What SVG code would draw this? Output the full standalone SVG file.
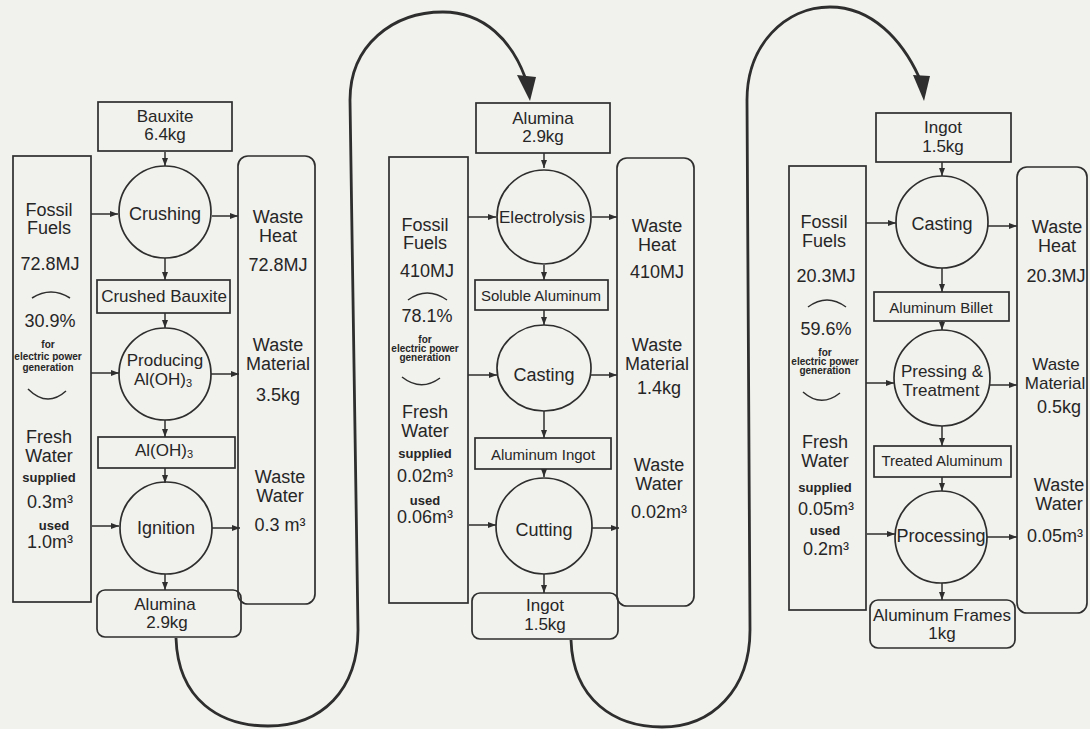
<svg xmlns="http://www.w3.org/2000/svg" width="1090" height="729" viewBox="0 0 1090 729">
<defs>
<style>
.bg{fill:#f1f1ed}
.box{fill:none;stroke:#2e2e2e;stroke-width:1.7}
.circ{fill:none;stroke:#2e2e2e;stroke-width:1.7}
.ln{fill:none;stroke:#2e2e2e;stroke-width:1.5}
.big{fill:none;stroke:#2e2e2e;stroke-width:2.8}
.arc{fill:none;stroke:#2e2e2e;stroke-width:1.5}
text{font-family:"Liberation Sans",Arial,sans-serif;fill:#262626;text-anchor:middle}
.t{font-size:18px}
.m{font-size:17px}
.s{font-size:15px}
.xs{font-size:10px;font-weight:bold}
.u{font-size:13px;font-weight:bold}
.sub{font-size:11px}
</style>
<marker id="ah" markerUnits="userSpaceOnUse" markerWidth="8" markerHeight="6" refX="8" refY="3" orient="auto">
<path d="M0,0 L8,3 L0,6 z" fill="#2e2e2e"/>
</marker>
</defs>
<rect class="bg" x="0" y="0" width="1090" height="729"/>

<g id="connectors">
<g marker-end="url(#ah)">
<line class="ln" x1="165" y1="152" x2="165" y2="166"/>
<line class="ln" x1="165" y1="258" x2="165" y2="280"/>
<line class="ln" x1="165" y1="313" x2="165" y2="328"/>
<line class="ln" x1="165" y1="420" x2="165" y2="437"/>
<line class="ln" x1="165" y1="468" x2="165" y2="483"/>
<line class="ln" x1="165" y1="574" x2="165" y2="590"/>
<line class="ln" x1="91" y1="214" x2="118" y2="214"/>
<line class="ln" x1="212" y1="216" x2="238" y2="216"/>
<line class="ln" x1="91" y1="373" x2="119" y2="373"/>
<line class="ln" x1="211" y1="374" x2="239" y2="374"/>
<line class="ln" x1="92" y1="526" x2="119" y2="526"/>
<line class="ln" x1="212" y1="528" x2="240" y2="528"/>

<line class="ln" x1="544" y1="153" x2="544" y2="168"/>
<line class="ln" x1="544" y1="265" x2="544" y2="280"/>
<line class="ln" x1="544" y1="310" x2="544" y2="325"/>
<line class="ln" x1="544" y1="411" x2="544" y2="438"/>
<line class="ln" x1="544" y1="469" x2="544" y2="477"/>
<line class="ln" x1="544" y1="574" x2="544" y2="593"/>
<line class="ln" x1="468" y1="217" x2="496" y2="217"/>
<line class="ln" x1="592" y1="217" x2="617" y2="217"/>
<line class="ln" x1="468" y1="375" x2="497" y2="375"/>
<line class="ln" x1="591" y1="375" x2="617" y2="375"/>
<line class="ln" x1="469" y1="525" x2="496" y2="525"/>
<line class="ln" x1="592" y1="528" x2="619" y2="528"/>

<line class="ln" x1="942" y1="162" x2="942" y2="176"/>
<line class="ln" x1="942" y1="268" x2="942" y2="292"/>
<line class="ln" x1="942" y1="321" x2="942" y2="330"/>
<line class="ln" x1="942" y1="426" x2="942" y2="446"/>
<line class="ln" x1="942" y1="477" x2="942" y2="491"/>
<line class="ln" x1="942" y1="583" x2="942" y2="600"/>
<line class="ln" x1="866" y1="223" x2="896" y2="223"/>
<line class="ln" x1="988" y1="226" x2="1017" y2="226"/>
<line class="ln" x1="866" y1="383" x2="894" y2="383"/>
<line class="ln" x1="990" y1="385" x2="1017" y2="385"/>
<line class="ln" x1="867" y1="534" x2="895" y2="534"/>
<line class="ln" x1="987" y1="537" x2="1017" y2="537"/>
</g>
<path class="big" d="M176,638 C178,700 220,726 268,726 C322,726 358,690 358,630 L350,100 C350,45 393,12 443,12 C485,12 512,42 525,77"/>
<polygon points="517,75 536,77 530,101" fill="#2e2e2e"/>
<path class="big" d="M571,640 C573,700 615,727 662,727 C712,727 750,690 750,630 L747,100 C747,45 785,7 830,7 C872,7 902,40 919,77"/>
<polygon points="913,75 930,76 924,101" fill="#2e2e2e"/>
</g>

<!-- Column 1 -->
<g id="bauxite"><rect class="box" x="98" y="102" width="134" height="49"/><text class="m" x="165" y="122">Bauxite</text><text class="m" x="165" y="140">6.4kg</text></g>
<g id="inputs1">
<rect class="box" x="13" y="156" width="78" height="446"/>
<text class="t" x="49" y="216">Fossil</text><text class="t" x="49" y="234">Fuels</text>
<text class="t" x="50" y="270">72.8MJ</text>
<path class="arc" d="M32,298 Q51,286 70,298"/>
<text class="t" x="50" y="327">30.9%</text>
<text class="xs" x="48" y="348">for</text><text class="xs" x="48" y="360">electric power</text><text class="xs" x="48" y="371">generation</text>
<path class="arc" d="M28,389 Q47,408 66,391"/>
<text class="t" x="49" y="443">Fresh</text><text class="t" x="49" y="462">Water</text>
<text class="u" x="49" y="482">supplied</text>
<text class="t" x="50" y="508">0.3m³</text>
<text class="u" x="54" y="530">used</text>
<text class="t" x="50" y="548">1.0m³</text>
</g>
<g id="outputs1">
<rect class="box" x="238" y="156" width="77" height="448" rx="10"/>
<text class="t" x="278" y="223">Waste</text><text class="t" x="278" y="242">Heat</text>
<text class="t" x="278" y="271">72.8MJ</text>
<text class="t" x="278" y="351">Waste</text><text class="t" x="278" y="370">Material</text>
<text class="t" x="278" y="401">3.5kg</text>
<text class="t" x="280" y="483">Waste</text><text class="t" x="280" y="502">Water</text>
<text class="t" x="280" y="531">0.3 m³</text>
</g>
<g id="crushing"><circle class="circ" cx="165" cy="212" r="46"/><text class="t" x="165" y="220">Crushing</text></g>
<g id="crushed-bauxite"><rect class="box" x="97" y="280" width="133" height="33"/><text class="m" x="164" y="302">Crushed Bauxite</text></g>
<g id="producing"><circle class="circ" cx="165" cy="374" r="46"/><text class="m" x="165" y="366">Producing</text><text class="m" x="163" y="385">Al(OH)<tspan class="sub" dy="2">3</tspan></text></g>
<g id="aloh3"><rect class="box" x="98" y="437" width="137" height="31"/><text class="m" x="164" y="456">Al(OH)<tspan class="sub" dy="2">3</tspan></text></g>
<g id="ignition"><circle class="circ" cx="166" cy="528" r="46"/><text class="t" x="166" y="534">Ignition</text></g>
<g id="alumina-out"><rect class="box" x="97" y="590" width="144" height="47" rx="8"/><text class="m" x="165" y="610">Alumina</text><text class="m" x="167" y="628">2.9kg</text></g>

<!-- Column 2 -->
<g id="alumina-in"><rect class="box" x="476" y="103" width="134" height="50"/><text class="m" x="543" y="124">Alumina</text><text class="m" x="543" y="142">2.9kg</text></g>
<g id="inputs2">
<rect class="box" x="389" y="157" width="79" height="446"/>
<text class="t" x="425" y="231">Fossil</text><text class="t" x="425" y="249">Fuels</text>
<text class="t" x="427" y="277">410MJ</text>
<path class="arc" d="M408,300 Q427,286 447,300"/>
<text class="t" x="427" y="322">78.1%</text>
<text class="xs" x="425" y="343">for</text><text class="xs" x="425" y="352">electric power</text><text class="xs" x="425" y="361">generation</text>
<path class="arc" d="M402,377 Q421,392 440,378"/>
<text class="t" x="425" y="418">Fresh</text><text class="t" x="425" y="437">Water</text>
<text class="u" x="425" y="458">supplied</text>
<text class="t" x="425" y="482">0.02m³</text>
<text class="u" x="425" y="505">used</text>
<text class="t" x="425" y="523">0.06m³</text>
</g>
<g id="outputs2">
<rect class="box" x="617" y="158" width="77" height="448" rx="10"/>
<text class="t" x="657" y="232">Waste</text><text class="t" x="657" y="251">Heat</text>
<text class="t" x="657" y="278">410MJ</text>
<text class="t" x="657" y="351">Waste</text><text class="t" x="657" y="370">Material</text>
<text class="t" x="659" y="394">1.4kg</text>
<text class="t" x="659" y="471">Waste</text><text class="t" x="659" y="490">Water</text>
<text class="t" x="659" y="518">0.02m³</text>
</g>
<g id="electrolysis"><circle class="circ" cx="544" cy="217" r="47"/><text class="m" x="542" y="223">Electrolysis</text></g>
<g id="soluble-aluminum"><rect class="box" x="475" y="280" width="133" height="30"/><text class="s" x="541" y="301">Soluble Aluminum</text></g>
<g id="casting2"><ellipse class="circ" cx="544" cy="368" rx="47" ry="43"/><text class="t" x="544" y="381">Casting</text></g>
<g id="aluminum-ingot"><rect class="box" x="475" y="438" width="136" height="31"/><text class="s" x="543" y="460">Aluminum Ingot</text></g>
<g id="cutting"><circle class="circ" cx="544" cy="526" r="48"/><text class="t" x="544" y="536">Cutting</text></g>
<g id="ingot-out"><rect class="box" x="472" y="593" width="146" height="46" rx="8"/><text class="m" x="545" y="611">Ingot</text><text class="m" x="545" y="630">1.5kg</text></g>

<!-- Column 3 -->
<g id="ingot-in"><rect class="box" x="876" y="113" width="135" height="49"/><text class="m" x="943" y="133">Ingot</text><text class="m" x="943" y="152">1.5kg</text></g>
<g id="inputs3">
<rect class="box" x="789" y="166" width="77" height="444"/>
<text class="t" x="824" y="228">Fossil</text><text class="t" x="824" y="247">Fuels</text>
<text class="t" x="826" y="282">20.3MJ</text>
<path class="arc" d="M808,307 Q827,293 846,307"/>
<text class="t" x="826" y="335">59.6%</text>
<text class="xs" x="825" y="356">for</text><text class="xs" x="825" y="365">electric power</text><text class="xs" x="825" y="374">generation</text>
<path class="arc" d="M803,392 Q821,408 840,393"/>
<text class="t" x="825" y="448">Fresh</text><text class="t" x="825" y="467">Water</text>
<text class="u" x="825" y="492">supplied</text>
<text class="t" x="826" y="515">0.05m³</text>
<text class="u" x="825" y="535">used</text>
<text class="t" x="826" y="555">0.2m³</text>
</g>
<g id="outputs3">
<rect class="box" x="1017" y="167" width="70" height="446" rx="10"/>
<text class="t" x="1057" y="233">Waste</text><text class="t" x="1057" y="252">Heat</text>
<text class="t" x="1056" y="282">20.3MJ</text>
<text class="m" x="1056" y="370">Waste</text><text class="m" x="1055" y="389">Material</text>
<text class="t" x="1059" y="413">0.5kg</text>
<text class="t" x="1059" y="491">Waste</text><text class="t" x="1059" y="510">Water</text>
<text class="t" x="1055" y="542">0.05m³</text>
</g>
<g id="casting3"><circle class="circ" cx="942" cy="222" r="46"/><text class="t" x="942" y="230">Casting</text></g>
<g id="aluminum-billet"><rect class="box" x="874" y="292" width="135" height="29"/><text class="s" x="941" y="313">Aluminum Billet</text></g>
<g id="pressing"><circle class="circ" cx="942" cy="378" r="48"/><text class="m" x="942" y="377">Pressing &amp;</text><text class="m" x="941" y="396">Treatment</text></g>
<g id="treated-aluminum"><rect class="box" x="874" y="446" width="137" height="31"/><text class="s" x="942" y="466">Treated Aluminum</text></g>
<g id="processing"><circle class="circ" cx="941" cy="537" r="46"/><text class="t" x="941" y="542">Processing</text></g>
<g id="aluminum-frames"><rect class="box" x="870" y="600" width="145" height="48" rx="8"/><text class="m" x="942" y="621">Aluminum Frames</text><text class="m" x="942" y="639">1kg</text></g>
</svg>
